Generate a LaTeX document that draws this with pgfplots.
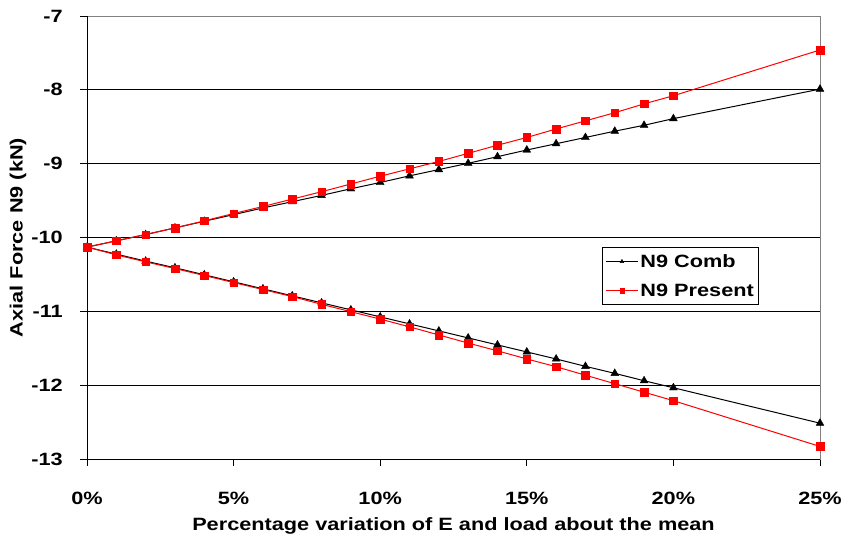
\documentclass[border=0pt]{standalone}
\usepackage{fontspec}
\setmainfont{Liberation Sans}[FakeStretch=1.22]
\usepackage{pgfplots}
\pgfplotsset{compat=1.18}
\newcommand{\lf}{\bfseries\fontsize{17.8}{21}\selectfont}
\begin{document}
\begin{tikzpicture}
\begin{axis}[
  at={(0pt,0pt)}, anchor=south west,
  scale only axis, width=733pt, height=443pt,
  xmin=0, xmax=25, ymin=-13, ymax=-7,
  xtick={0,5,10,15,20,25},
  xticklabels={0\%,5\%,10\%,15\%,20\%,25\%},
  ytick={-13,-12,-11,-10,-9,-8,-7},
  yticklabels={-13,-12,-11,-10,-9,-8,-7},
  tick pos=left, tick align=outside, major tick length=7pt,
  tick style={black, line width=0.8pt},
  ymajorgrids, grid style={black, line width=0.8pt},
  axis line style={gray, line width=0.8pt},
  every tick label/.append style={font=\lf},
  xticklabel style={anchor=base, inner sep=0pt, yshift=-38pt},
  yticklabel style={anchor=east, inner sep=0pt, xshift=-17pt},
  xlabel={Percentage variation of E and load about the mean},
  ylabel={Axial Force N9 (kN)},
  xlabel style={font=\lf, at={(axis description cs:0.5,-0.1625)}, anchor=base},
  ylabel style={font=\lf, at={(axis description cs:-0.094,0.5)}, anchor=center},
  legend style={at={(axis description cs:0.7026,0.4786)}, anchor=north west,
    draw=black, line width=0.8pt, font=\lf, inner xsep=3pt, inner ysep=5pt,
    row sep=11pt, cells={anchor=west}},
  legend image code/.code={\draw[mark repeat=2,mark phase=2,#1,mark size=2.2pt] plot coordinates {(0pt,0pt) (16pt,0pt) (32pt,0pt)};},
]
\addplot[black, line width=1pt, mark=triangle*, mark size=4.5pt, mark options={fill=black, draw=black, line width=0.4pt}] coordinates {
 (25,-12.515) (20,-12.035) (19,-11.94) (18,-11.84) (17,-11.745) (16,-11.645) (15,-11.55) (14,-11.455) (13,-11.36) (12,-11.265) (11,-11.17) (10,-11.075) (9,-10.98) (8,-10.885) (7,-10.79) (6,-10.695) (5,-10.60) (4,-10.505) (3,-10.41) (2,-10.32) (1,-10.225) (0,-10.13)
 (1,-10.045) (2,-9.96) (3,-9.87) (4,-9.78) (5,-9.69) (6,-9.60) (7,-9.515) (8,-9.43) (9,-9.34) (10,-9.255) (11,-9.165) (12,-9.08) (13,-8.995) (14,-8.905) (15,-8.815) (16,-8.73) (17,-8.645) (18,-8.56) (19,-8.48) (20,-8.39) (25,-7.99)
};
\addlegendentry{N9 Comb}
\addplot[red, line width=1pt, mark=square*, mark size=3.8pt, mark options={fill=red, draw=red, line width=0.4pt}] coordinates {
 (25,-12.83) (20,-12.21) (19,-12.095) (18,-11.98) (17,-11.865) (16,-11.75) (15,-11.645) (14,-11.535) (13,-11.43) (12,-11.32) (11,-11.21) (10,-11.105) (9,-11.005) (8,-10.905) (7,-10.80) (6,-10.705) (5,-10.61) (4,-10.515) (3,-10.42) (2,-10.33) (1,-10.235) (0,-10.13)
 (1,-10.045) (2,-9.96) (3,-9.87) (4,-9.775) (5,-9.675) (6,-9.58) (7,-9.48) (8,-9.38) (9,-9.275) (10,-9.17) (11,-9.07) (12,-8.97) (13,-8.86) (14,-8.75) (15,-8.645) (16,-8.53) (17,-8.42) (18,-8.31) (19,-8.19) (20,-8.08) (25,-7.46)
};
\addlegendentry{N9 Present}
\draw[gray, line width=0.8pt] (rel axis cs:0,1) -- (rel axis cs:1,1);
\draw[black, line width=0.8pt] (rel axis cs:0,1) -- (rel axis cs:0,0) -- (rel axis cs:1,0);
\end{axis}
\pgfresetboundingbox
\path[use as bounding box] (-87pt,-79pt) rectangle (759pt,459pt);
\end{tikzpicture}
\end{document}
